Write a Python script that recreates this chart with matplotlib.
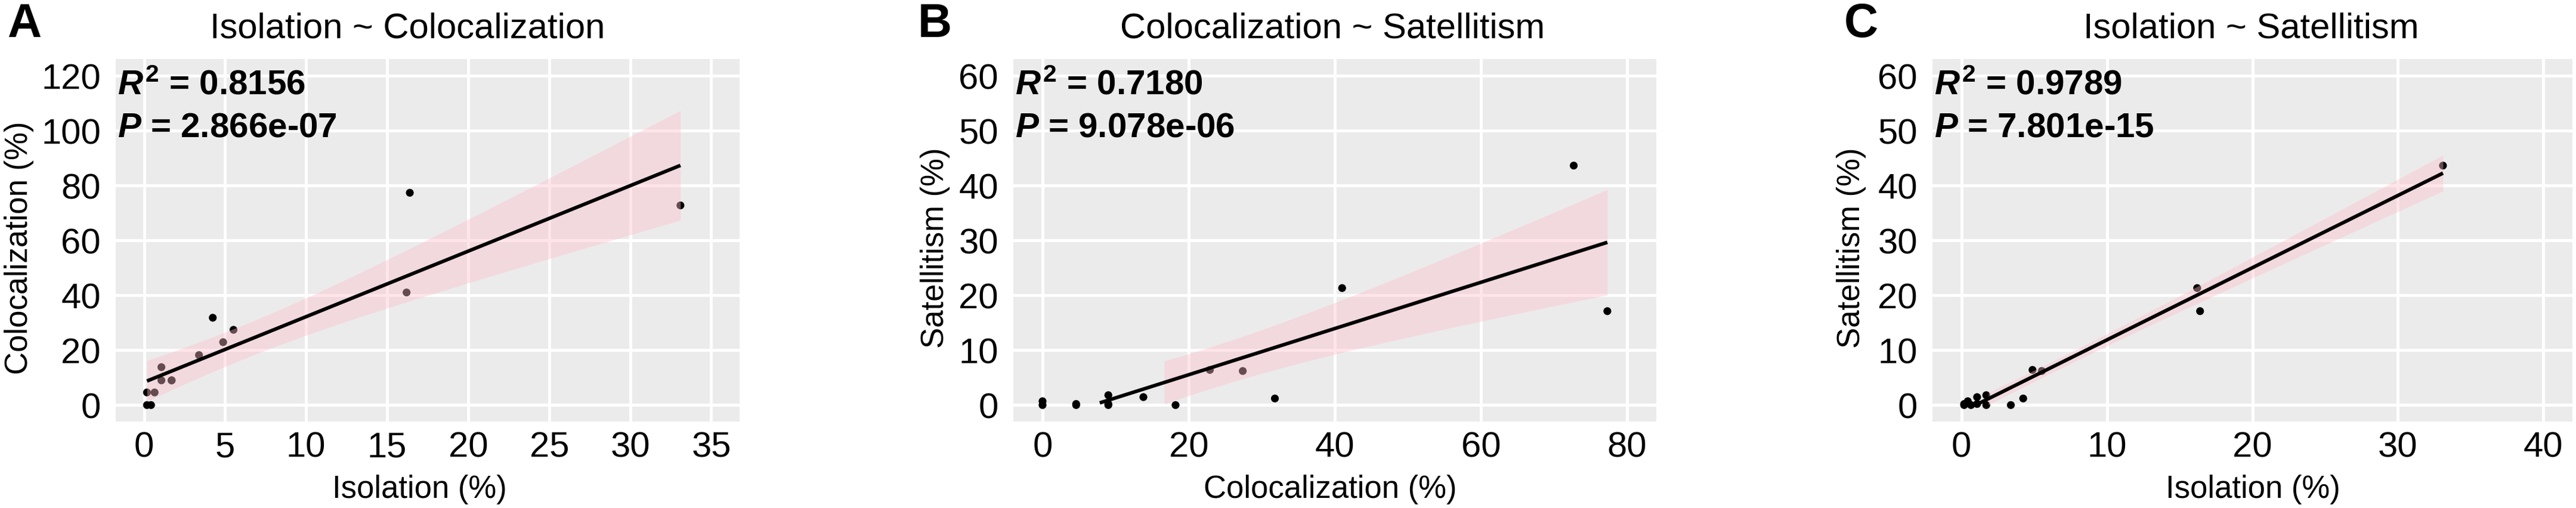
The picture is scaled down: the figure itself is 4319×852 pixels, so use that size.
import numpy as np
import matplotlib
matplotlib.use('Agg')
import matplotlib.pyplot as plt

plt.rcParams['font.family'] = ['Liberation Sans', 'DejaVu Sans']
plt.rcParams['mathtext.fontset'] = 'custom'
plt.rcParams['mathtext.it'] = 'Liberation Sans:italic:bold'
plt.rcParams['mathtext.bf'] = 'Liberation Sans:bold'
plt.rcParams['mathtext.rm'] = 'Liberation Sans:bold'

# one value per sample (%)
isolation = [16.4, 33.1, 16.2, 4.24, 5.52, 4.88, 3.39, 1.07, 1.07, 1.70, 1.70, 0.65, 0.18, 0.43, 0.18]
colocalization = [77.3, 72.7, 41.0, 31.8, 27.4, 22.9, 18.2, 13.8, 9.0, 9.0, 9.0, 4.6, 4.6, 0.0, 0.0]
satellitism = [17.1, 43.6, 21.3, 1.2, 6.2, 6.4, 0.0, 1.45, 0.2, 1.8, 0.0, 0.0, 0.2, 0.7, 0.0]

panel_letters = ['A', 'B', 'C']
titles = ['Isolation ~ Colocalization', 'Colocalization ~ Satellitism', 'Isolation ~ Satellitism']
x_labels = ['Isolation (%)', 'Colocalization (%)', 'Isolation (%)']
y_labels = ['Colocalization (%)', 'Satellitism (%)', 'Satellitism (%)']
r2_labels = ['0.8156', '0.7180', '0.9789']
p_labels = ['2.866e-07', '9.078e-06', '7.801e-15']
x_limits = [(0, 35), (0, 80), (0, 40)]
y_limits = [(0, 120), (0, 60), (0, 60)]
x_ticks = [list(range(0, 36, 5)), list(range(0, 81, 20)), list(range(0, 41, 10))]
y_ticks = [list(range(0, 121, 20)), list(range(0, 61, 10)), list(range(0, 61, 10))]
pairs = [(isolation, colocalization), (colocalization, satellitism), (isolation, satellitism)]

T975 = 2.160  # t quantile for 95% CI, 13 df (15 samples)

W, H = 4319, 853
# panel boxes in pixels: left, top, width, height
boxes = [(194, 100, 1046, 608), (1699, 100, 1078, 608), (3240, 100, 1073, 608)]
title_x = [683, 2234, 3774]
letter_x = [12, 1539, 3092]
xlab_x = [0.487, 0.493, 0.501]
ylab_x = [-0.155, -0.1215, -0.127]


def lm_band(x, y):
    x = np.asarray(x, float)
    y = np.asarray(y, float)
    n = len(x)
    slope, icpt = np.polyfit(x, y, 1)
    xs = np.linspace(x.min(), x.max(), 80)
    fit = icpt + slope * xs
    resid = y - (icpt + slope * x)
    s = np.sqrt(np.sum(resid ** 2) / (n - 2))
    se = s * np.sqrt(1 / n + (xs - x.mean()) ** 2 / np.sum((x - x.mean()) ** 2))
    return xs, fit, fit - T975 * se, fit + T975 * se


fig = plt.figure(figsize=(W / 100, H / 100), dpi=100)

for i in range(3):
    l, t, w, h = boxes[i]
    ax = fig.add_axes([l / W, (H - t - h) / H, w / W, h / H])
    ax.set_facecolor('#EBEBEB')
    for sp in ax.spines.values():
        sp.set_visible(False)

    x, y = pairs[i]
    ax.scatter(x, y, s=90, color='black', edgecolors='none', zorder=2)

    lo, hi = y_limits[i]
    xs, fit, ymin, ymax = lm_band(x, y)
    # rows outside the y limits are dropped, as ggplot does
    band_ok = (ymin >= lo) & (ymax <= hi)
    line_ok = (fit >= lo) & (fit <= hi)
    ax.fill_between(xs, ymin, ymax, where=band_ok, color='pink', alpha=0.4,
                    linewidth=0, zorder=3)
    ax.plot(xs[line_ok], fit[line_ok], color='black', linewidth=4.3, zorder=4,
            solid_capstyle='butt')

    x0, x1 = x_limits[i]
    dx = (x1 - x0) * 0.05
    dy = (hi - lo) * 0.05
    ax.set_xlim(x0 - dx, x1 + dx)
    ax.set_ylim(lo - dy, hi + dy)
    ax.set_xticks(x_ticks[i])
    ax.set_yticks(y_ticks[i])
    ax.grid(True, color='white', linewidth=3.6)
    ax.set_axisbelow(True)
    ax.tick_params(axis='both', length=0, labelsize=43)
    ax.tick_params(axis='x', pad=11)
    ax.tick_params(axis='y', pad=18)

    ax.set_xlabel(x_labels[i], fontsize=38, va='center')
    ax.xaxis.set_label_coords(xlab_x[i], -0.186)
    ax.set_ylabel(y_labels[i], fontsize=38, va='center')
    ax.yaxis.set_label_coords(ylab_x[i], 0.48)

    ax.text(0.003, 0.928, r'$\mathit{R}^{\mathbf{2}}$ = ' + r2_labels[i],
            transform=ax.transAxes, fontsize=42, fontweight='bold', va='center', ha='left')
    ax.text(0.003, 0.811, r'$\mathit{P}$ = ' + p_labels[i],
            transform=ax.transAxes, fontsize=42, fontweight='bold', va='center', ha='left')

    fig.text(title_x[i] / W, 1 - 64 / H, titles[i], fontsize=43, ha='center', va='baseline')
    fig.text(letter_x[i] / W, 1 - 62 / H, panel_letters[i], fontsize=57, fontweight='bold',
             ha='left', va='baseline')

fig.savefig('out.png', dpi=100, facecolor='white')
